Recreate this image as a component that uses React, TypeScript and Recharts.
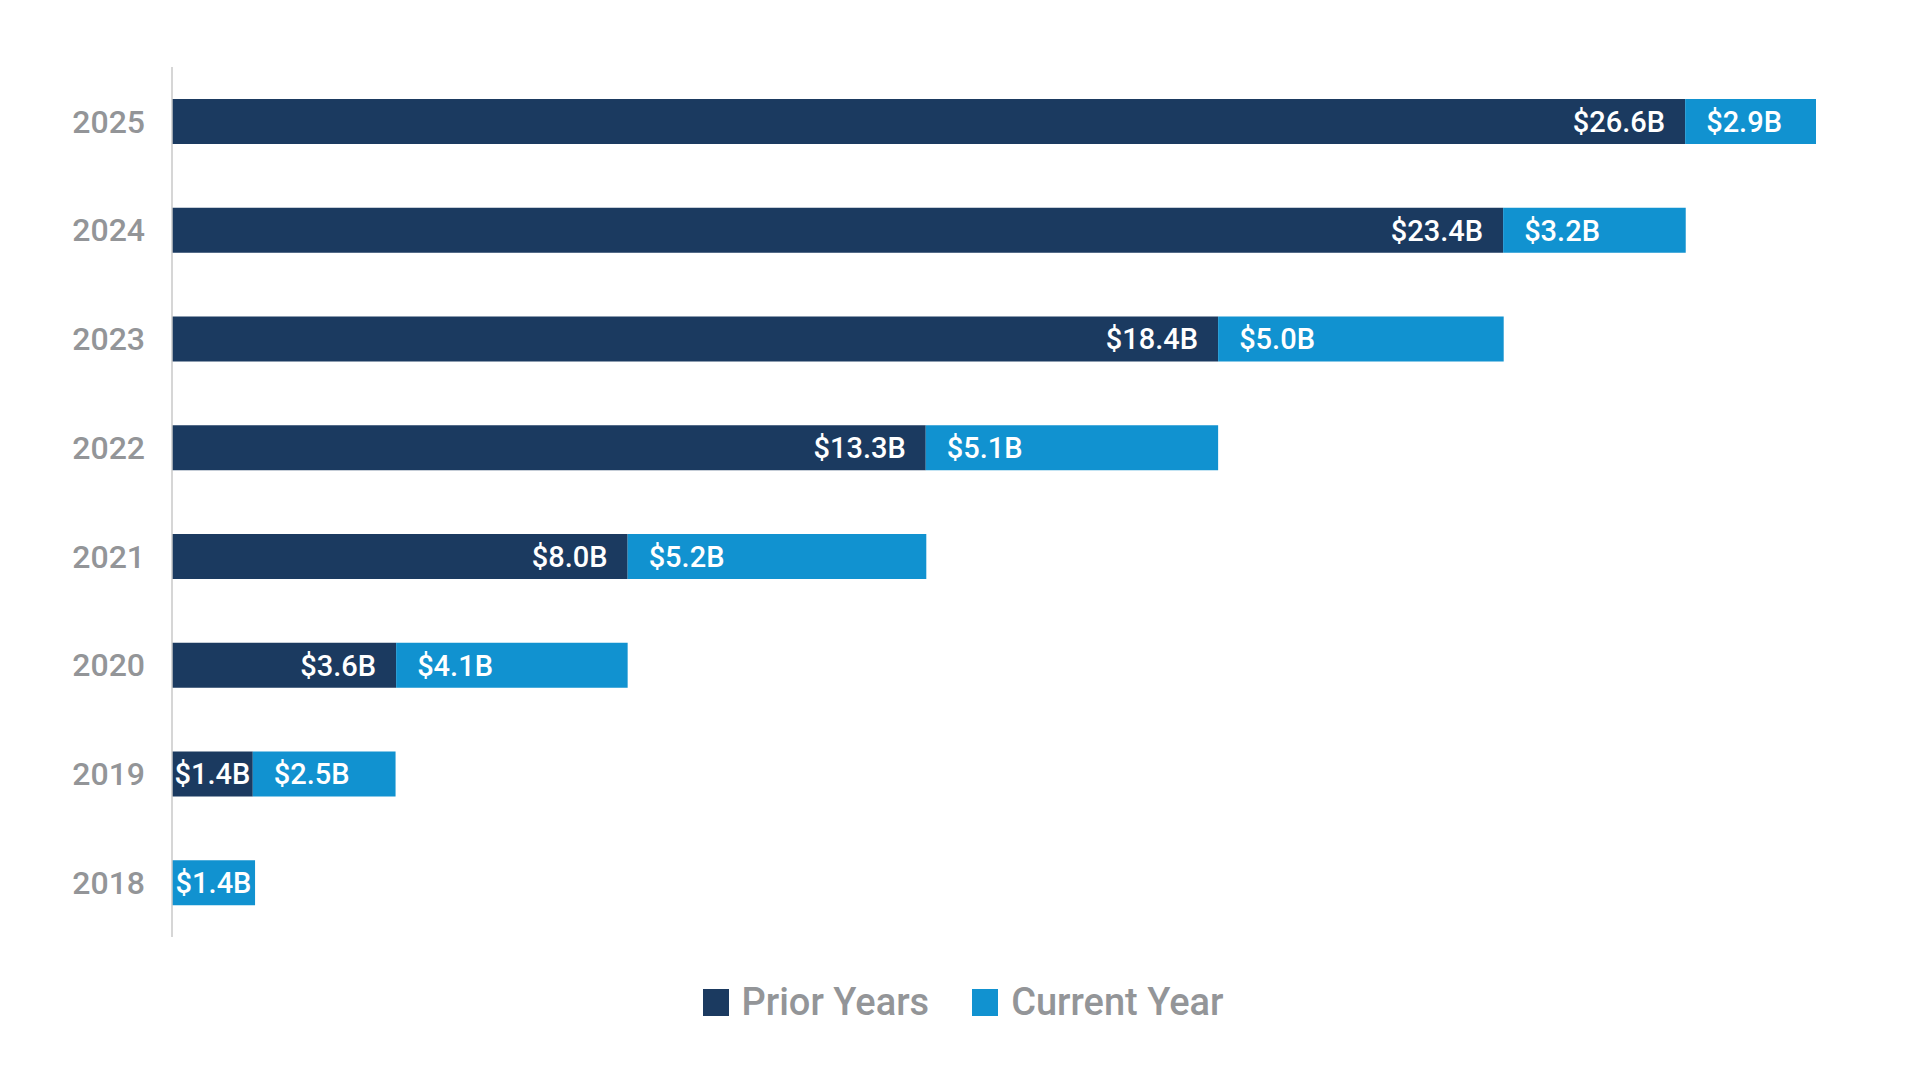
import React from "react";
import { BarChart, Bar, XAxis, YAxis, Legend, LabelList } from "recharts";

// values in $B (labels are the printed, rounded figures)
const years = ["2018", "2019", "2020", "2021", "2022", "2023", "2024", "2025"];
const priorValues = [null, 1.42, 3.94, 8.01, 13.25, 18.39, 23.4, 26.6];
const currentValues = [1.46, 2.51, 4.07, 5.25, 5.14, 5.02, 3.21, 2.9];
const priorLabels = ["", "$1.4B", "$3.6B", "$8.0B", "$13.3B", "$18.4B", "$23.4B", "$26.6B"];
const currentLabels = ["$1.4B", "$2.5B", "$4.1B", "$5.2B", "$5.1B", "$5.0B", "$3.2B", "$2.9B"];

const PRIOR = "#1b3a60";
const CURRENT = "#1192d0";
const GREY = "#939598";
const FONT = "Roboto, 'Noto Sans', sans-serif";

// newest year on top
const rows = years
  .map((year, i) => ({
    year,
    prior: priorValues[i],
    current: currentValues[i],
    priorLabel: priorLabels[i],
    currentLabel: currentLabels[i],
  }))
  .reverse();

const barLabel = (side: "start" | "end") => (props: any) => {
  const { x, y, width, height, value } = props;
  if (!value) return null;
  const textW = String(value).length * 15;
  let tx = x + 21;
  let anchor = "start";
  if (width < textW + 40) {
    tx = x + width / 2;
    anchor = "middle";
  } else if (side === "end") {
    tx = x + width - 20;
    anchor = "end";
  }
  return (
    <text
      x={tx}
      y={y + height / 2}
      dy="0.36em"
      textAnchor={anchor}
      fill="#ffffff"
      fontSize={29}
      fontWeight={500}
      fontFamily={FONT}
    >
      {value}
    </text>
  );
};

const legendItems = [
  { label: "Prior Years", color: PRIOR },
  { label: "Current Year", color: CURRENT },
];

function ChartLegend() {
  return (
    <div
      style={{
        height: 130,
        display: "flex",
        alignItems: "center",
        justifyContent: "center",
        paddingLeft: 6,
        gap: 43,
        fontFamily: FONT,
      }}
    >
      {legendItems.map((it) => (
        <div key={it.label} style={{ display: "flex", alignItems: "center" }}>
          <span style={{ width: 26, height: 27, background: it.color, marginRight: 13 }} />
          <span style={{ fontSize: 38, fontWeight: 500, color: GREY, lineHeight: 1 }}>{it.label}</span>
        </div>
      ))}
    </div>
  );
}

export default function App() {
  return (
    <div style={{ position: "absolute", left: 0, top: 0, width: 1920, height: 1080, background: "#fff" }}>
      <BarChart
        width={1920}
        height={1080}
        data={rows}
        layout="vertical"
        margin={{ top: 67, right: 104, bottom: 13, left: 0 }}
        barSize={45}
      >
        <XAxis type="number" domain={[0, 28.9]} allowDataOverflow hide />
        <YAxis
          type="category"
          dataKey="year"
          width={172}
          tickLine={false}
          tickSize={0}
          tickMargin={27}
          axisLine={{ stroke: "#c9c9c9", strokeWidth: 1.5 }}
          tick={{ fill: GREY, fontSize: 32, fontWeight: 500, fontFamily: FONT }}
        />
        <Legend
          verticalAlign="bottom"
          height={130}
          wrapperStyle={{ left: 0, width: 1920 }}
          content={() => <ChartLegend />}
        />
        <Bar dataKey="prior" stackId="a" fill={PRIOR} isAnimationActive={false}>
          <LabelList dataKey="priorLabel" content={barLabel("end")} />
        </Bar>
        <Bar dataKey="current" stackId="a" fill={CURRENT} isAnimationActive={false}>
          <LabelList dataKey="currentLabel" content={barLabel("start")} />
        </Bar>
      </BarChart>
    </div>
  );
}
